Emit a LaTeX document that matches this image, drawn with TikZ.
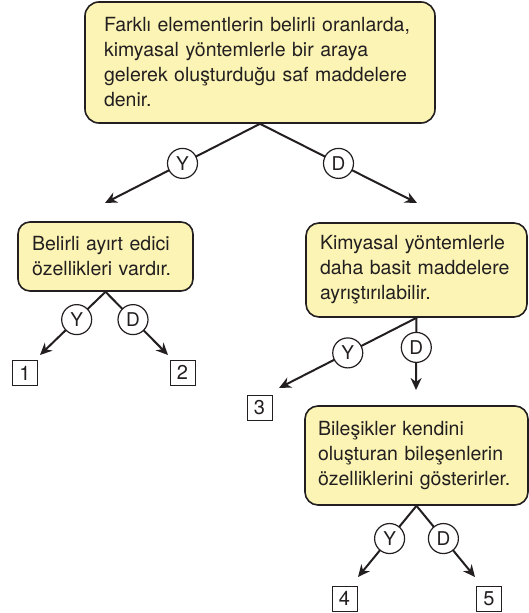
\documentclass[tikz,border=0pt]{standalone}
\usepackage{fontspec}
\setmainfont{TeX Gyre Heros}
\usetikzlibrary{arrows.meta}
\definecolor{boxfill}{RGB}{251,244,180}
\definecolor{ink}{RGB}{35,31,32}
\begin{document}
\begin{tikzpicture}[x=1pt,y=-1pt,
  qbox/.style={draw=ink, line width=1.6pt, fill=boxfill, rounded corners=14pt,
     align=left, font=\fontsize{19.5}{25}\selectfont, text=ink, inner ysep=0pt},
  circ/.style={circle, draw=ink, fill=white, line width=1.2pt, inner sep=0pt,
     minimum size=30pt, font=\fontsize{19}{20}\selectfont, text=ink},
  numbox/.style={draw=ink, line width=1pt, fill=white, inner sep=0pt,
     minimum width=25pt, minimum height=25pt, font=\fontsize{20}{20}\selectfont, text=ink},
  conn/.style={draw=ink, line width=2pt, -{Stealth[length=12pt,width=11pt]}}
]
\useasboundingbox (0,0) rectangle (529,613);

\node[qbox, text width=312pt, inner xsep=19pt, minimum height=121pt] (top) at (260,62.5)
 {Farklı elementlerin belirli oranlarda,\\kimyasal yöntemlerle bir araya\\gelerek oluşturduğu saf maddelere\\denir.};

\node[qbox, text width=147pt, inner xsep=14pt, minimum height=69pt, rounded corners=12pt] (left) at (105.5,256.5)
 {Belirli ayırt edici\\özellikleri vardır.};

\node[qbox, text width=193pt, inner xsep=14pt, minimum height=94pt, rounded corners=13pt] (right) at (416.5,270)
 {Kimyasal yöntemlerle\\daha basit maddelere\\ayrıştırılabilir.};

\node[qbox, text width=197pt, inner xsep=13pt, minimum height=99pt, rounded corners=13pt] (bottom) at (416.5,455.5)
 {Bileşikler kendini\\oluşturan bileşenlerin\\özelliklerini gösterirler.};

\coordinate (e1) at (105,203);
\coordinate (e2) at (417,203);
\coordinate (e3) at (40,355);
\coordinate (e4) at (168,355);
\coordinate (e5) at (279,388);
\coordinate (e6) at (416,390);
\coordinate (e7) at (358,577);
\coordinate (e8) at (475,577);

\draw[conn] (top.south) -- (e1) node[circ, pos=0.5] (y1) {Y};
\draw[conn] (top.south) -- (e2) node[circ, pos=0.5] (d1) {D};
\draw[conn] (left.south) -- (e3) node[circ, pos=0.44] (y2) {Y};
\draw[conn] (left.south) -- (e4) node[circ, pos=0.44] (d2) {D};
\draw[conn] (right.south) -- (e5) node[circ, pos=0.5] (y3) {Y};
\draw[conn] (right.south) -- (e6) node[circ, pos=0.41] (d3) {D};
\draw[conn] (bottom.south) -- (e7) node[circ, pos=0.46] (y4) {Y};
\draw[conn] (bottom.south) -- (e8) node[circ, pos=0.46] (d4) {D};

\node[numbox] (n1) at (25,373) {1};
\node[numbox] (n2) at (182.5,372.5) {2};
\node[numbox] (n3) at (259.5,407.5) {3};
\node[numbox] (n4) at (344.5,598.5) {4};
\node[numbox] (n5) at (489,598.5) {5};
\end{tikzpicture}
\end{document}
